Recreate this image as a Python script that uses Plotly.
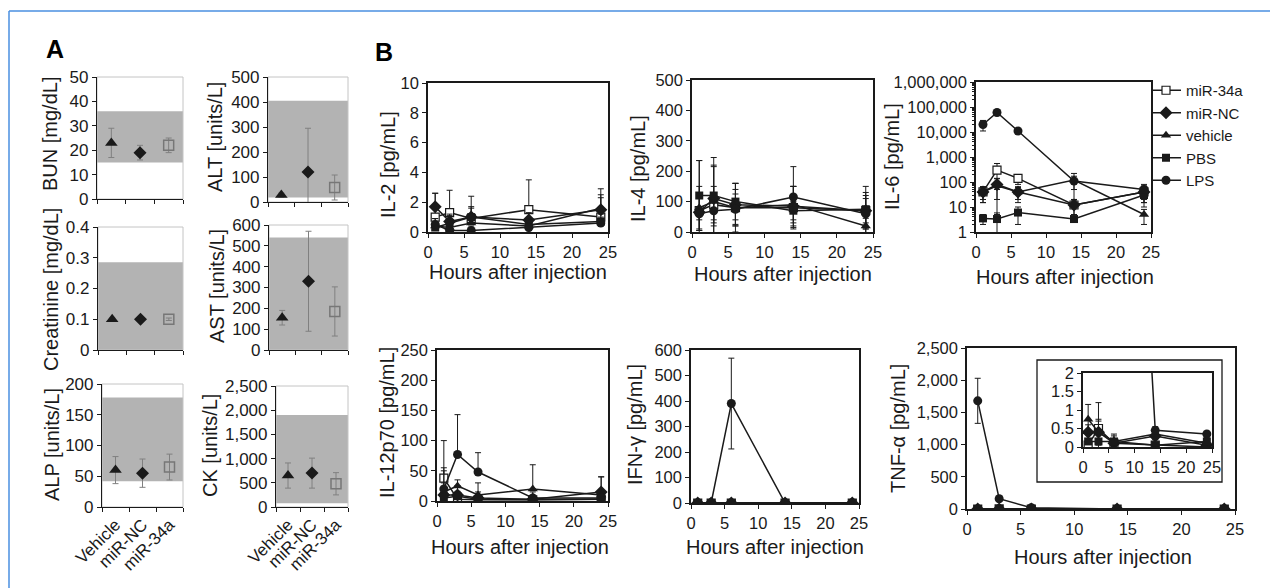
import plotly.graph_objects as go

W, H = 1270, 588

# ---------------- Panel A data ----------------
groups = ["Vehicle", "miR-NC", "miR-34a"]
bun_mean = [23, 19, 22]
bun_err = [6, 3, 3]
bun_normal = [15, 36]
alt_mean = [28, 120, 58]
alt_err = [8, 175, 50]
alt_normal = [18, 405]
creat_mean = [0.1, 0.1, 0.1]
creat_err = [0.004, 0.004, 0.004]
creat_normal = [0, 0.285]
ast_mean = [155, 330, 185]
ast_err = [35, 240, 118]
ast_normal = [0, 540]
alp_mean = [60, 55, 65]
alp_err = [22, 23, 21]
alp_normal = [42, 178]
ck_mean = [650, 700, 480]
ck_err = [260, 310, 230]
ck_normal = [80, 1900]

# ---------------- Panel B data ----------------
hours = [1, 3, 6, 14, 24]
series_names = ["miR-34a", "miR-NC", "vehicle", "PBS", "LPS"]

il2_mir34a = [1.0, 1.3, 0.9, 1.5, 1.0]
il2_mir34a_err = [1.6, 1.5, 0.7, 2.0, 1.3]
il2_mirnc = [1.7, 0.7, 1.0, 0.8, 1.5]
il2_mirnc_err = [0.9, 0.5, 1.4, 0.5, 1.4]
il2_vehicle = [0.4, 0.3, 0.6, 0.4, 1.6]
il2_vehicle_err = [0.5, 0.4, 0.5, 0.5, 0.9]
il2_pbs = [0.3, 0.6, 1.0, 0.5, 0.7]
il2_pbs_err = [0.3, 0.5, 0.7, 0.4, 0.5]
il2_lps = [0.5, 0.1, 0.1, 0.3, 0.6]
il2_lps_err = [0.4, 0.2, 0.3, 0.3, 0.4]

il4_mir34a = [70, 90, 80, 80, 70]
il4_mir34a_err = [165, 60, 80, 70, 80]
il4_mirnc = [65, 110, 90, 85, 70]
il4_mirnc_err = [60, 135, 70, 65, 60]
il4_vehicle = [80, 100, 80, 90, 20]
il4_vehicle_err = [70, 115, 60, 60, 25]
il4_pbs = [120, 120, 100, 70, 75]
il4_pbs_err = [115, 100, 60, 30, 45]
il4_lps = [60, 70, 75, 115, 60]
il4_lps_err = [20, 30, 50, 100, 50]

il6_mir34a = [40, 300, 140, 12, 40]
il6_mir34a_err = [25, 250, 60, 8, 30]
il6_mirnc = [40, 80, 40, 12, 40]
il6_mirnc_err = [25, 60, 25, 7, 25]
il6_vehicle = [40, 70, 40, 120, 5]
il6_vehicle_err = [20, 65, 20, 100, 3]
il6_pbs = [3.5, 3.3, 6, 3.3, 30]
il6_pbs_err = [1.5, 2.5, 4, 0.8, 15]
il6_lps = [20000, 60000, 11000, 110, 50]
il6_lps_err = [9000, 15000, 2000, 60, 30]

il12_mir34a = [38, 3, 2, 2, 3]
il12_mir34a_err = [62, 5, 3, 3, 3]
il12_mirnc = [10, 10, 5, 3, 15]
il12_mirnc_err = [20, 15, 10, 5, 25]
il12_vehicle = [15, 25, 10, 20, 10]
il12_vehicle_err = [40, 10, 20, 40, 30]
il12_pbs = [5, 8, 3, 2, 3]
il12_pbs_err = [5, 8, 4, 3, 4]
il12_lps = [20, 77, 48, 5, 5]
il12_lps_err = [30, 66, 32, 10, 10]

ifn_mir34a = [0, 0, 0, 0, 0]
ifn_mir34a_err = [0, 0, 0, 0, 0]
ifn_mirnc = [0, 0, 0, 0, 0]
ifn_mirnc_err = [0, 0, 0, 0, 0]
ifn_vehicle = [0, 0, 0, 0, 0]
ifn_vehicle_err = [0, 0, 0, 0, 0]
ifn_pbs = [0, 0, 0, 0, 0]
ifn_pbs_err = [0, 0, 0, 0, 0]
ifn_lps = [0, 0, 390, 0, 0]
ifn_lps_err = [0, 0, 178, 0, 0]

tnf_mir34a = [0.05, 0.5, 0.1, 0.05, 0.0]
tnf_mir34a_err = [0.05, 0.7, 0.1, 0.05, 0.03]
tnf_mirnc = [0.4, 0.4, 0.1, 0.3, 0.05]
tnf_mirnc_err = [0.2, 0.3, 0.2, 0.1, 0.05]
tnf_vehicle = [0.75, 0.4, 0.15, 0.35, 0.1]
tnf_vehicle_err = [0.4, 0.35, 0.2, 0.1, 0.1]
tnf_pbs = [0.15, 0.15, 0.15, 0.05, 0.15]
tnf_pbs_err = [0.05, 0.05, 0.05, 0.03, 0.05]
tnf_lps = [1680, 160, 20, 0.45, 0.35]
tnf_lps_err = [350, 40, 10, 0.1, 0.05]

# ---------------- styling ----------------
FONT = "Liberation Sans, Arial, sans-serif"
INK = "#1a1a1a"
TITLE_SIZE = 20


def dom_x(a, b):
    return [a / W, b / W]


def dom_y(top, bottom):
    return [1 - bottom / H, 1 - top / H]


def axn(idx):
    s = "" if idx == 1 else str(idx)
    return "x" + s, "y" + s, "xaxis" + s, "yaxis" + s


fig = go.Figure()
layout = {}
shapes = []
annotations = []

a_marker = {
    "Vehicle": dict(symbol="triangle-up", size=11, color=INK),
    "miR-NC": dict(symbol="diamond", size=10, color=INK),
    "miR-34a": dict(symbol="square-open", size=10, color="#777777", line=dict(width=1.5)),
}

A_specs = [
    (1, bun_mean, bun_err, bun_normal, [0, 50], 10, "", "BUN [mg/dL]", (97, 183, 77, 199), (50, 134), False),
    (2, alt_mean, alt_err, alt_normal, [0, 500], 100, "", "ALT [units/L]", (268, 348, 77, 202), (215, 137), False),
    (3, creat_mean, creat_err, creat_normal, [0, 0.4], 0.1, "", "Creatinine [mg/dL]", (98, 183, 227, 350), (51, 290), False),
    (4, ast_mean, ast_err, ast_normal, [0, 600], 100, "", "AST [units/L]", (269, 348, 225, 350), (217, 286), False),
    (5, alp_mean, alp_err, alp_normal, [0, 200], 50, "", "ALP [units/L]", (102, 183, 384, 507), (52, 445), True),
    (6, ck_mean, ck_err, ck_normal, [0, 2500], 500, ",", "CK [units/L]", (276, 348, 386, 507), (210, 446), True),
]

for idx, means, errs, normal, yr, dt, fmt, ytitle, box, tpos, showlab in A_specs:
    xa, ya, xk, yk = axn(idx)
    for g, m, e in zip(groups, means, errs):
        fig.add_trace(go.Scatter(
            x=[g], y=[m], mode="markers", xaxis=xa, yaxis=ya, showlegend=False,
            marker=a_marker[g],
            error_y=dict(type="data", array=[e], color="#808080", thickness=1, width=3),
        ))
    x0, x1, top, bottom = box
    layout[xk] = dict(
        domain=dom_x(x0, x1), anchor=ya, type="category", automargin=False,
        categoryorder="array", categoryarray=groups, range=[-0.5, 2.5],
        tickson="boundaries", ticks="outside", ticklen=4, tickcolor=INK,
        showline=True, linecolor=INK, linewidth=1.2, showgrid=False, zeroline=False,
        showticklabels=showlab, tickangle=-45, tickfont=dict(family=FONT, size=17, color=INK),
    )
    layout[yk] = dict(
        domain=dom_y(top, bottom), anchor=xa, range=yr, dtick=dt, tick0=0, automargin=False,
        tickformat=fmt, ticks="outside", ticklen=4, tickcolor=INK,
        showline=True, linecolor=INK, linewidth=1.2, showgrid=False, zeroline=False,
        tickfont=dict(family=FONT, size=17, color=INK),
    )
    shapes.append(dict(type="rect", xref=f"{xa} domain", yref=ya, x0=0, x1=1,
                       y0=normal[0], y1=normal[1], fillcolor="#b3b3b3",
                       line=dict(width=0), layer="below"))
    shapes.append(dict(type="rect", xref=f"{xa} domain", yref=f"{ya} domain", x0=0, x1=1,
                       y0=0, y1=1, line=dict(color="#c4c4c4", width=1), layer="below"))
    annotations.append(dict(text=ytitle, x=tpos[0] / W, y=1 - tpos[1] / H, xref="paper", yref="paper",
                            textangle=-90, showarrow=False, xanchor="center", yanchor="middle",
                            font=dict(family=FONT, size=TITLE_SIZE, color=INK)))

b_marker = {
    "miR-34a": dict(symbol="square", size=8, color="white", line=dict(color=INK, width=1.2)),
    "miR-NC": dict(symbol="diamond", size=10, color=INK),
    "vehicle": dict(symbol="triangle-up", size=9, color=INK),
    "PBS": dict(symbol="square", size=8, color=INK),
    "LPS": dict(symbol="circle", size=9, color=INK),
}

il2_data = [(il2_mir34a, il2_mir34a_err), (il2_mirnc, il2_mirnc_err), (il2_vehicle, il2_vehicle_err), (il2_pbs, il2_pbs_err), (il2_lps, il2_lps_err)]
il4_data = [(il4_mir34a, il4_mir34a_err), (il4_mirnc, il4_mirnc_err), (il4_vehicle, il4_vehicle_err), (il4_pbs, il4_pbs_err), (il4_lps, il4_lps_err)]
il6_data = [(il6_mir34a, il6_mir34a_err), (il6_mirnc, il6_mirnc_err), (il6_vehicle, il6_vehicle_err), (il6_pbs, il6_pbs_err), (il6_lps, il6_lps_err)]
il12_data = [(il12_mir34a, il12_mir34a_err), (il12_mirnc, il12_mirnc_err), (il12_vehicle, il12_vehicle_err), (il12_pbs, il12_pbs_err), (il12_lps, il12_lps_err)]
ifn_data = [(ifn_mir34a, ifn_mir34a_err), (ifn_mirnc, ifn_mirnc_err), (ifn_vehicle, ifn_vehicle_err), (ifn_pbs, ifn_pbs_err), (ifn_lps, ifn_lps_err)]
tnf_data = [(tnf_mir34a, tnf_mir34a_err), (tnf_mirnc, tnf_mirnc_err), (tnf_vehicle, tnf_vehicle_err), (tnf_pbs, tnf_pbs_err), (tnf_lps, tnf_lps_err)]

STD = [0, 1, 2, 3, 4]
PBS_TOP = [0, 1, 2, 4, 3]

B_specs = [
    (7, il2_data, (428, 608, 83, 232), [0, 10], 2, "linear", "", "IL-2 [pg/mL]", (388, 165), (518, 272), True, False, STD),
    (8, il4_data, (692, 873, 80, 232), [0, 500], 100, "linear", "", "IL-4 [pg/mL]", (638, 168), (783, 274), False, False, STD),
    (9, il6_data, (976, 1151, 82, 232), [0, 6], 1, "log", ",", "IL-6 [pg/mL]", (892, 157), (1065, 277), False, True, STD),
    (10, il12_data, (437, 608, 350, 501), [0, 250], 50, "linear", "", "IL-12p70 [pg/mL]", (387, 423), (520, 547), True, False, STD),
    (11, ifn_data, (691, 859, 350, 503), [0, 600], 100, "linear", "", "IFN-γ [pg/mL]", (635, 425), (775, 547), False, False, PBS_TOP),
    (12, tnf_data, (967, 1235, 348, 509), [0, 2500], 500, "linear", ",", "TNF-α [pg/mL]", (898, 429), (1103, 557), False, False, STD),
    (13, tnf_data, (1083, 1212, 373, 447), [0, 2], 0.5, "linear", "", None, None, None, False, False, STD),
]

shapes.append(dict(type="rect", xref="paper", yref="paper", x0=1037 / W, x1=1222 / W,
                   y0=1 - 482 / H, y1=1 - 360 / H, fillcolor="white",
                   line=dict(color=INK, width=1.3), layer="below"))

for idx, data, box, yr, dt, ytype, fmt, ytitle, ypos, xpos, up_only, leg, order in B_specs:
    xa, ya, xk, yk = axn(idx)
    for k in order:
        name = series_names[k]
        vals, errs = data[k]
        ey = dict(type="data", array=errs, color=INK, thickness=1, width=3)
        if up_only:
            ey["symmetric"] = False
            ey["arrayminus"] = [0] * len(errs)
        fig.add_trace(go.Scatter(
            x=hours, y=vals, mode="lines+markers", name=name, xaxis=xa, yaxis=ya,
            showlegend=leg, line=dict(color=INK, width=1.5), marker=b_marker[name],
            error_y=ey, cliponaxis=True,
        ))
    x0, x1, top, bottom = box
    layout[xk] = dict(
        domain=dom_x(x0, x1), anchor=ya, range=[0, 25], dtick=5, tick0=0, automargin=False,
        ticks="outside", ticklen=4, tickcolor=INK, showline=True, mirror=True,
        linecolor=INK, linewidth=1.5, showgrid=False, zeroline=False,
        tickfont=dict(family=FONT, size=16.5, color=INK),
    )
    yax = dict(
        domain=dom_y(top, bottom), anchor=xa, type=ytype, range=yr, dtick=dt, tick0=0, automargin=False,
        tickformat=fmt, ticks="outside", ticklen=4, tickcolor=INK, showline=True, mirror=True,
        linecolor=INK, linewidth=1.5, showgrid=False, zeroline=False,
        tickfont=dict(family=FONT, size=16.5, color=INK),
    )
    if ytype == "log":
        yax["minor"] = dict(ticks="outside", ticklen=2, tickcolor=INK, showgrid=False)
    layout[yk] = yax
    if ytitle:
        annotations.append(dict(text=ytitle, x=ypos[0] / W, y=1 - ypos[1] / H, xref="paper", yref="paper",
                                textangle=-90, showarrow=False, xanchor="center", yanchor="middle",
                                font=dict(family=FONT, size=TITLE_SIZE, color=INK)))
        annotations.append(dict(text="Hours after injection", x=xpos[0] / W, y=1 - xpos[1] / H,
                                xref="paper", yref="paper", showarrow=False,
                                xanchor="center", yanchor="middle",
                                font=dict(family=FONT, size=TITLE_SIZE, color=INK)))

annotations.append(dict(text="<b>A</b>", x=55 / W, y=1 - 49 / H, xref="paper", yref="paper",
                        showarrow=False, xanchor="center", yanchor="middle",
                        font=dict(family=FONT, size=25, color="black")))
annotations.append(dict(text="<b>B</b>", x=384 / W, y=1 - 52 / H, xref="paper", yref="paper",
                        showarrow=False, xanchor="center", yanchor="middle",
                        font=dict(family=FONT, size=25, color="black")))

shapes.append(dict(type="line", xref="paper", yref="paper", x0=9 / W, x1=1.0,
                   y0=1 - 11 / H, y1=1 - 11 / H, line=dict(color="#4a8fe0", width=1.5)))
shapes.append(dict(type="line", xref="paper", yref="paper", x0=9 / W, x1=9 / W,
                   y0=0, y1=1 - 11 / H, line=dict(color="#4a8fe0", width=1.5)))

fig.update_layout(
    width=W, height=H, margin=dict(l=0, r=0, t=0, b=0, autoexpand=False),
    paper_bgcolor="white", plot_bgcolor="rgba(0,0,0,0)",
    font=dict(family=FONT, color=INK),
    showlegend=True,
    legend=dict(x=1146 / W, y=1 - 74 / H, xanchor="left", yanchor="top",
                font=dict(family=FONT, size=15, color=INK), bgcolor="rgba(0,0,0,0)",
                itemwidth=30, tracegroupgap=0),
    shapes=shapes, annotations=annotations,
    **layout,
)

fig.write_html(
    "out.html",
    config={"displayModeBar": False},
    post_script="document.body.style.margin='0';document.body.style.overflow='hidden';",
)
